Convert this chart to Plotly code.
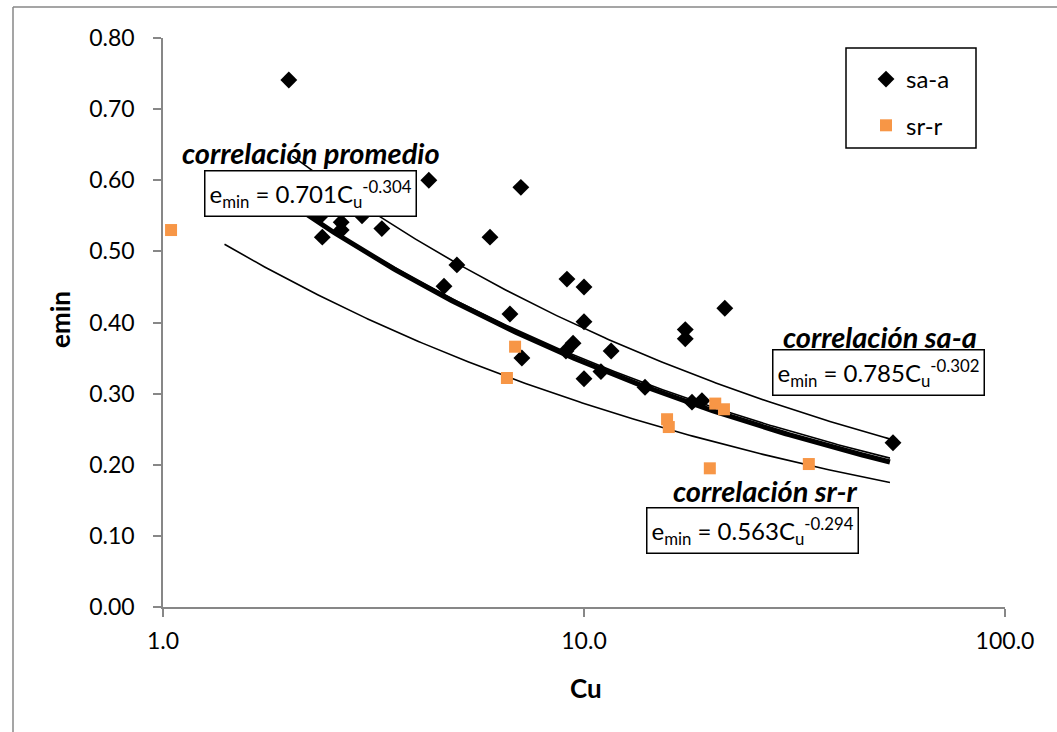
import numpy as np
import plotly.graph_objects as go

# ---- data ----
saa_cu = [1.99, 4.28, 7.08, 2.37, 2.65, 2.65, 2.97, 3.31, 2.39, 5.98, 4.99, 4.65,
          9.11, 10.0, 6.67, 10.0, 9.42, 9.06, 11.6, 17.4, 17.4, 7.12, 10.97, 10.0,
          13.96, 21.6, 18.05, 19.06, 54.2]
saa_emin = [0.741, 0.600, 0.590, 0.550, 0.541, 0.530, 0.550, 0.532, 0.520, 0.520, 0.481, 0.451,
            0.461, 0.450, 0.412, 0.401, 0.371, 0.360, 0.360, 0.390, 0.377, 0.350, 0.331, 0.321,
            0.309, 0.420, 0.288, 0.290, 0.231]

srr_cu = [1.045, 6.86, 6.56, 20.5, 21.5, 15.75, 15.9, 19.9, 34.2]
srr_emin = [0.530, 0.366, 0.322, 0.286, 0.278, 0.264, 0.253, 0.195, 0.201]

# trendline parameters (emin = a * Cu^b) and their Cu spans
fit_prom = (0.701, -0.304)
fit_prom_thick = (0.705, -0.312)
fit_saa = (0.785, -0.302)
fit_srr = (0.563, -0.294)
span_prom = (1.9, 53.3)
span_saa = (2.03, 53.3)
span_srr = (1.40, 53.3)

ytick_vals = [0.0, 0.1, 0.2, 0.3, 0.4, 0.5, 0.6, 0.7, 0.8]
ytick_text = ["0.00", "0.10", "0.20", "0.30", "0.40", "0.50", "0.60", "0.70", "0.80"]
xtick_vals = [1, 10, 100]
xtick_text = ["1.0", "10.0", "100.0"]


def curve(params, span):
    a, b = params
    x = np.logspace(np.log10(span[0]), np.log10(span[1]), 200)
    return x, a * x ** b


# ---- layout geometry (pixels) ----
W, H = 1057, 732
L, R, T, B = 163, 1005, 38, 607


def px(p):
    return (p - L) / (R - L)


def py(p):
    return (B - p) / (B - T)


fig = go.Figure()

for params, span, w in [(fit_saa, span_saa, 1.6), (fit_srr, span_srr, 1.6),
                        (fit_prom_thick, span_prom, 5), (fit_prom, span_prom, 1.6)]:
    cx, cy = curve(params, span)
    fig.add_trace(go.Scatter(x=cx, y=cy, mode="lines", showlegend=False,
                             line=dict(color="black", width=w), hoverinfo="skip"))

fig.add_trace(go.Scatter(x=saa_cu, y=saa_emin, mode="markers", name="sa-a",
                         legendgroup="a",
                         marker=dict(symbol="diamond", size=13, color="black")))
fig.add_trace(go.Scatter(x=srr_cu, y=srr_emin, mode="markers", name="sr-r",
                         legendgroup="b",
                         marker=dict(symbol="square", size=12, color="#F79646")))

tickfont = dict(family="Lato", size=23, color="black")
axis_common = dict(showline=True, linecolor="#878787", linewidth=1.5, ticks="outside",
                   ticklen=8, tickcolor="#878787", tickwidth=1.5, showgrid=False,
                   zeroline=False, tickfont=tickfont)

fig.update_xaxes(type="log", range=[0, 2], tickvals=xtick_vals, ticktext=xtick_text,
                 ticklabelstandoff=5, **axis_common)
fig.update_yaxes(range=[0, 0.8], tickvals=ytick_vals, ticktext=ytick_text,
                 ticklabelstandoff=14, **axis_common)

ann = []
title_font = dict(family="Lato", size=26, color="black")
ann.append(dict(text="<b>Cu</b>", x=px(586), y=py(688), xref="paper", yref="paper",
                showarrow=False, font=title_font, xanchor="center", yanchor="middle"))
ann.append(dict(text="<b>emin</b>", x=px(60), y=py(320), xref="paper", yref="paper",
                showarrow=False, font=title_font, textangle=-90,
                xanchor="center", yanchor="middle"))

lab_font = dict(family="Lato", size=29, color="black")
eq_font = dict(family="Lato", size=24, color="black")
labels = [
    ("correlación promedio", 311, 152, "0.701", "-0.304", 310, 193),
    ("correlación sa-a", 880, 336, "0.785", "-0.302", 878, 372),
    ("correlación sr-r", 765, 490, "0.563", "-0.294", 752, 530),
]
for title, tx, ty, a, b, bx, by in labels:
    ann.append(dict(text="<b><i>%s</i></b>" % title, x=px(tx), y=py(ty), xref="paper",
                    yref="paper", showarrow=False, font=lab_font,
                    xanchor="center", yanchor="middle"))
    ann.append(dict(text="e<sub>min</sub> = %sC<sub>u</sub><sup>%s</sup>" % (a, b),
                    x=px(bx), y=py(by), xref="paper", yref="paper", showarrow=False,
                    font=eq_font, xanchor="center", yanchor="middle",
                    bordercolor="black", borderwidth=1.5, borderpad=4, bgcolor="white"))

shapes = [
    dict(type="line", xref="paper", yref="paper", x0=px(13), x1=px(1060), y0=py(7), y1=py(7),
         line=dict(color="#878787", width=1.5)),
    dict(type="line", xref="paper", yref="paper", x0=px(13), x1=px(13), y0=py(7), y1=py(740),
         line=dict(color="#878787", width=1.5)),
    # legend frame
    dict(type="rect", xref="paper", yref="paper", x0=px(846), x1=px(976), y0=py(148), y1=py(48),
         line=dict(color="black", width=1.5), fillcolor="rgba(0,0,0,0)"),
]

fig.update_layout(
    width=W, height=H,
    margin=dict(l=L, r=W - R, t=T, b=H - B, pad=0),
    paper_bgcolor="white", plot_bgcolor="white",
    annotations=ann, shapes=shapes,
    legend=dict(x=px(866), y=py(57), xanchor="left", yanchor="top",
                borderwidth=0, bgcolor="rgba(0,0,0,0)",
                font=dict(family="Lato", size=24, color="black"),
                traceorder="grouped", tracegroupgap=12, itemwidth=30),
)

fig.write_html("out.html")
